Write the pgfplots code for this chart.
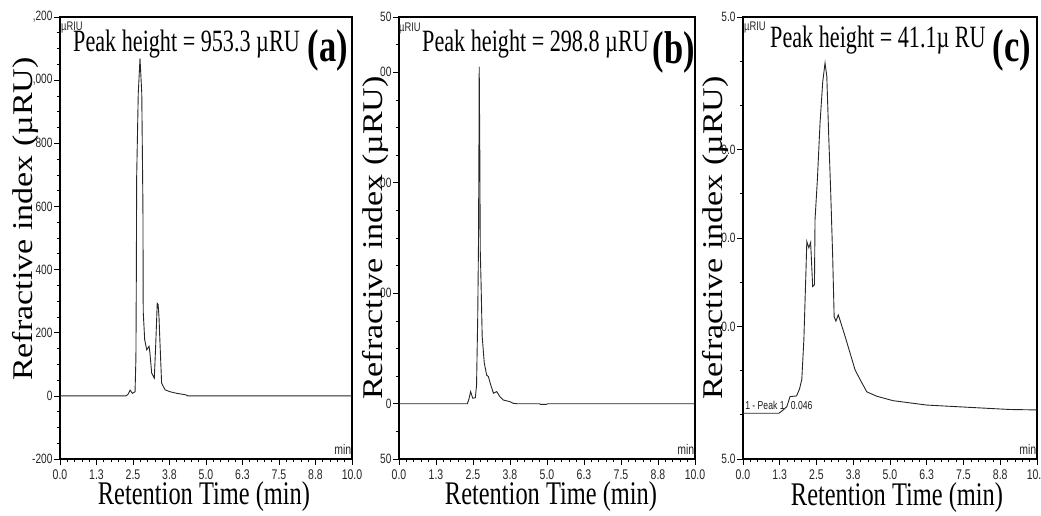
\documentclass[border=0pt]{standalone}
\usepackage{pgfplots}
\pgfplotsset{compat=1.18}
\usepackage{fontspec}
\setmainfont{Liberation Serif}
\newfontfamily\tickf[FakeStretch=0.75]{Liberation Sans}
\newfontfamily\peakf[FakeStretch=0.715]{Liberation Serif}
\newfontfamily\xlabf[FakeStretch=0.74]{Liberation Serif}
\newfontfamily\tagf[FakeStretch=0.75]{Liberation Serif}
\newcommand\fs[1]{\fontsize{#1}{#1}\selectfont}

\pgfplotstableread{
t v
0 0
2.26 0
2.33 5
2.40 18
2.48 8
2.57 13
2.60 119
2.615 400
2.625 690
2.68 958
2.74 1069
2.80 959
2.84 600
2.85 267
2.90 178
2.97 146
3.05 157
3.08 135
3.14 72
3.23 56
3.28 167
3.33 293
3.36 290
3.39 251
3.42 177
3.48 40
3.60 19
3.77 13
4.00 8
4.32 3
4.37 0
10 0
}\dataA

\pgfplotstableread{
t v
0 0
2.31 0
2.36 4
2.42 11
2.49 5
2.58 5.5
2.62 17
2.66 79
2.685 145
2.70 228
2.71 305
2.73 228
2.745 139
2.77 112
2.81 61
2.88 37
2.96 26
3.02 24.5
3.10 17
3.19 9.5
3.30 11
3.41 6.4
3.52 3.4
3.75 1.9
3.86 0.4
4.0 0
4.75 0
4.78 -0.6
4.98 -0.6
5.02 0
10 0
}\dataB

\pgfplotstableread{
t v
0 10.18
1.22 10.18
1.35 10.5
1.49 10.92
1.60 12.06
1.82 12.13
1.92 12.9
2.00 14.0
2.07 18.5
2.14 26.1
2.17 29.6
2.24 28.9
2.30 29.5
2.37 24.5
2.43 24.7
2.45 32.1
2.53 36.6
2.62 43.0
2.71 47.6
2.79 49.8
2.85 48.3
2.92 41.1
2.98 35.5
3.05 27.9
3.10 21.1
3.16 20.6
3.24 21.3
3.30 20.7
3.47 18.9
3.64 17.0
3.81 15.1
3.98 14.0
4.21 12.6
4.55 12.1
5.10 11.6
6.25 11.1
7.38 10.9
8.50 10.7
9.08 10.6
10 10.55
}\dataC

\pgfplotsset{
  chrom/.style={
    scale only axis, height=442pt,
    xmin=0, xmax=10,
    xtick={0,1.25,2.5,3.75,5,6.25,7.5,8.75,10},
    xticklabels={0.0,1.3,2.5,3.8,5.0,6.3,7.5,8.8,10.0},
    minor x tick num=4,
    tick align=outside,
    tick pos=left,
    major tick length=6pt, minor tick length=3.5pt,
    xticklabel style={font=\tickf\fs{14}, text=black!85, yshift=-1pt},
    yticklabel style={font=\tickf\fs{13.5}, text=black!85, xshift=2pt},
    axis line style={black, line width=1.1pt},
    every tick/.style={black, line width=0.7pt},
    anchor=south west,
  },
  curve/.style={line width=0.9pt, black!85, no marks},
}

\begin{document}
\begin{tikzpicture}[x=1pt,y=1pt]
\useasboundingbox (0,0) rectangle (1041,516);

% ---------- (a)
\begin{axis}[chrom, at={(60pt,57pt)}, width=292pt,
  ymin=-200, ymax=1200,
  ytick={-200,0,200,400,600,800,1000,1200},
  yticklabels={-200,0,200,400,600,800,{,000},{,200}},
  minor y tick num=3]
\addplot[curve] table[x=t,y=v] {\dataA};
\end{axis}

% ---------- (b)
\begin{axis}[chrom, at={(399pt,57pt)}, width=296pt,
  ymin=-50, ymax=350,
  ytick={-50,0,100,200,300,350},
  yticklabels={50,0,00,00,00,50},
  minor ytick={-25,25,50,75,125,150,175,225,250,275,325}]
\addplot[curve] table[x=t,y=v] {\dataB};
\end{axis}

% ---------- (c)
\begin{axis}[chrom, at={(743pt,57pt)}, width=294pt,
  ymin=5, ymax=55,
  ytick={5,20,30,40,55},
  yticklabels={5.0,0.0,0.0,0.0,5.0},
  minor ytick={10,15,25,35,45,50}]
\addplot[curve] table[x=t,y=v] {\dataC};
\node[anchor=base west, inner sep=0, font=\tickf\fs{11.5}, text=black!90] at (axis cs:0.07,10.55) {1 - Peak 1};
\node[anchor=base west, inner sep=0, font=\tickf\fs{11.5}, text=black!90] at (axis cs:1.62,10.55) {0.046};
\end{axis}

% small unit labels
\foreach \x/\y in {61/494, 399/493, 744/494}
  \node[anchor=north west, inner sep=0, font=\tickf\fs{12.5}, text=black!85] at (\x,\y) {µRIU};
\foreach \x in {352, 695, 1037}
  \node[anchor=south east, inner sep=0.5pt, font=\tickf\fs{14}, text=black!85] at (\x,61) {min};

% peak heights
\node[anchor=base west, inner sep=0, font=\peakf\fs{31}] at (73,464) {Peak height = 953.3 µRU};
\node[anchor=base west, inner sep=0, font=\peakf\fs{31}] at (422,464) {Peak height = 298.8 µRU};
\node[anchor=base west, inner sep=0, font=\peakf\fs{31}] at (770,468) {Peak height = 41.1µ RU};

% panel tags
\node[inner sep=0, font=\tagf\bfseries\fs{46}] at (328,466) {(a)};
\node[inner sep=0, font=\tagf\bfseries\fs{46}] at (674,464) {(b)};
\node[inner sep=0, font=\tagf\bfseries\fs{46}] at (1012,466) {(c)};

% y labels
\foreach \x/\y in {32/297, 382/278, 722/278}
  \node[rotate=90, anchor=base, inner sep=0, font=\fs{34}] at (\x,\y) {\scalebox{1}[0.84]{Refractive index (µRU)}};

% x labels
\foreach \x/\y in {204/11, 551/11, 897/10}
  \node[anchor=base, inner sep=0, font=\xlabf\fs{33}] at (\x,\y) {Retention Time (min)};
\end{tikzpicture}
\end{document}
